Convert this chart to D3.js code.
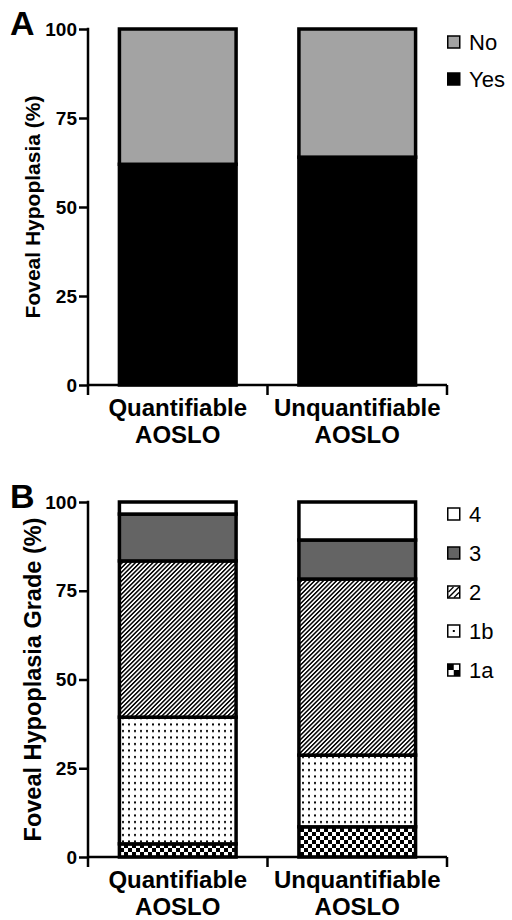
<!DOCTYPE html>
<html><head><meta charset="utf-8">
<script src="https://cdn.jsdelivr.net/npm/d3@7"></script>
<style>body{margin:0;background:#fff}svg{display:block;font-family:"Liberation Sans",Arial,sans-serif}</style>
</head><body><svg id="c" width="512" height="920"></svg>
<script>
const categories = ["Quantifiable AOSLO", "Unquantifiable AOSLO"];
const categoryLines = [["Quantifiable", "AOSLO"], ["Unquantifiable", "AOSLO"]];
const yTicks = [0, 25, 50, 75, 100];
// Panel A
const hypoKeys = ["Yes", "No"];
const hypoYes = [62, 64];
const hypoNo = [38, 36];
// Panel B
const gradeKeys = ["1a", "1b", "2", "3", "4"];
const grade1a = [3.7, 8.5];
const grade1b = [35.7, 20.2];
const grade2 = [44.0, 49.6];
const grade3 = [13.2, 11.0];
const grade4 = [3.4, 10.7];

const svg = d3.select("#c");
const defs = svg.append("defs");
// hatch pattern
const ph = defs.append("pattern").attr("id", "hatch").attr("patternUnits", "userSpaceOnUse")
  .attr("width", 3.1).attr("height", 6).attr("patternTransform", "rotate(45)");
ph.append("rect").attr("width", 3.1).attr("height", 6).attr("fill", "#fff");
ph.append("rect").attr("width", 1.5).attr("height", 6).attr("fill", "#000");
// dots pattern
const pd = defs.append("pattern").attr("id", "dots").attr("patternUnits", "userSpaceOnUse")
  .attr("width", 6).attr("height", 6.5);
pd.append("rect").attr("width", 6).attr("height", 6.5).attr("fill", "#fff");
pd.append("rect").attr("x", 2).attr("y", 2).attr("width", 2).attr("height", 2).attr("fill", "#000");
// checker pattern
const pc = defs.append("pattern").attr("id", "checker").attr("patternUnits", "userSpaceOnUse")
  .attr("width", 8).attr("height", 8);
pc.append("rect").attr("width", 8).attr("height", 8).attr("fill", "#fff");
pc.append("rect").attr("width", 4).attr("height", 4).attr("fill", "#000");
pc.append("rect").attr("x", 4).attr("y", 4).attr("width", 4).attr("height", 4).attr("fill", "#000");

const left = 88, right = 447;
const x = d3.scaleBand().domain(categories).range([left, right]).paddingInner(1/3).paddingOuter(1/6);

function panel(opts) {
  const y = d3.scaleLinear().domain([0, 100]).range([opts.bottom, opts.top]);
  const g = svg.append("g");
  const rows = categories.map((c, i) => {
    const r = {cat: c};
    opts.keys.forEach((k, j) => r[k] = opts.series[j][i]);
    return r;
  });
  const stack = d3.stack().keys(opts.keys)(rows);
  g.selectAll("g.layer").data(stack).join("g").attr("class", "layer")
    .attr("fill", (d, j) => opts.fills[j])
    .selectAll("rect").data(d => d).join("rect")
    .attr("x", d => x(d.data.cat) + 1.5)
    .attr("width", x.bandwidth() - 3)
    .attr("y", d => y(d[1]))
    .attr("height", d => y(d[0]) - y(d[1]))
    .attr("stroke", "#000").attr("stroke-width", 3.5);

  // y axis
  const ya = g.append("g").attr("transform", `translate(${left},0)`)
    .call(d3.axisLeft(y).tickValues(yTicks).tickSize(9).tickSizeOuter(0).tickPadding(2));
  ya.select(".domain").remove();
  ya.selectAll(".tick line").attr("stroke", "#000").attr("stroke-width", 2.5);
  ya.selectAll(".tick text").attr("font-size", 19).attr("font-weight", "bold").attr("fill", "#000")
    .attr("font-family", "Liberation Sans, Arial, sans-serif");
  g.append("line").attr("x1", left).attr("x2", left).attr("y1", y(100) - 1.25).attr("y2", y(0) + 10)
    .attr("stroke", "#000").attr("stroke-width", 2.5);
  // x axis baseline + separators
  g.append("line").attr("x1", left).attr("x2", right).attr("y1", y(0)).attr("y2", y(0))
    .attr("stroke", "#000").attr("stroke-width", 2.5);
  const bounds = d3.range(categories.length + 1).map(i => left + i * x.step());
  g.selectAll("line.sep").data(bounds.slice(1)).join("line").attr("class", "sep")
    .attr("x1", d => d).attr("x2", d => d).attr("y1", y(0)).attr("y2", y(0) + 10)
    .attr("stroke", "#000").attr("stroke-width", 2.5);
  // category labels
  const lab = g.selectAll("text.cat").data(categories).join("text").attr("class", "cat")
    .attr("text-anchor", "middle").attr("font-size", 24).attr("font-weight", "bold").attr("fill", "#000");
  lab.selectAll("tspan").data((d, i) => categoryLines[i].map(t => ({t, c: d}))).join("tspan")
    .attr("x", d => x(d.c) + x.bandwidth() / 2)
    .attr("y", (d, k) => y(0) + 31 + k * 27).text(d => d.t);
  // y title
  g.append("text").attr("transform", `translate(${opts.titleX},${(y(0) + y(100)) / 2}) rotate(-90)`)
    .attr("text-anchor", "middle").attr("font-size", opts.titleSize).attr("font-weight", "bold").text(opts.title);
  // panel letter
  g.append("text").attr("x", 10).attr("y", opts.top + 6).attr("font-size", 34).attr("font-weight", "bold").text(opts.letter);
  // legend
  const leg = g.selectAll("g.leg").data(opts.legend).join("g").attr("class", "leg")
    .attr("transform", (d, k) => `translate(447,${opts.legendTop + k * opts.legendStep})`);
  leg.each(function(d) {
    const s = d3.select(this);
    s.append("rect").attr("x", 0.75).attr("y", -6).attr("width", 12).attr("height", 12)
      .attr("fill", d.swatch).attr("stroke", "#000").attr("stroke-width", 1.5);
    if (d.extra) d.extra(s);
  });
  leg.append("text").attr("x", 22).attr("y", 8).attr("font-size", 22).attr("fill", "#000").text(d => d.key);
}

panel({
  top: 29, bottom: 385, keys: hypoKeys, series: [hypoYes, hypoNo], fills: ["#000", "#a3a3a3"],
  title: "Foveal Hypoplasia (%)", titleSize: 21, titleX: 40, letter: "A", legendTop: 42, legendStep: 37,
  legend: [{key: "No", swatch: "#a3a3a3"}, {key: "Yes", swatch: "#000"}]
});
panel({
  top: 502, bottom: 857, keys: gradeKeys, series: [grade1a, grade1b, grade2, grade3, grade4],
  fills: ["url(#checker)", "url(#dots)", "url(#hatch)", "#646464", "#fff"],
  title: "Foveal Hypoplasia Grade (%)", titleSize: 23.5, titleX: 41, letter: "B", legendTop: 514, legendStep: 39,
  legend: [
    {key: "4", swatch: "#fff"},
    {key: "3", swatch: "#646464"},
    {key: "2", swatch: "#fff", extra: s => {
      s.append("line").attr("x1", 1.5).attr("y1", 5.5).attr("x2", 12).attr("y2", -5).attr("stroke", "#000").attr("stroke-width", 1.5);
      s.append("line").attr("x1", 1.5).attr("y1", 0).attr("x2", 6.5).attr("y2", -5).attr("stroke", "#000").attr("stroke-width", 1.2);
      s.append("line").attr("x1", 7).attr("y1", 5.5).attr("x2", 12).attr("y2", 0.5).attr("stroke", "#000").attr("stroke-width", 1.2);
    }},
    {key: "1b", swatch: "#fff", extra: s => {
      s.append("rect").attr("x", 5.8).attr("y", -1).attr("width", 2).attr("height", 2).attr("fill", "#000");
    }},
    {key: "1a", swatch: "#fff", extra: s => {
      s.append("rect").attr("x", 0.75).attr("y", -6).attr("width", 6).attr("height", 6).attr("fill", "#000");
      s.append("rect").attr("x", 6.75).attr("y", 0).attr("width", 6).attr("height", 6).attr("fill", "#000");
    }}
  ]
});
</script></body></html>
